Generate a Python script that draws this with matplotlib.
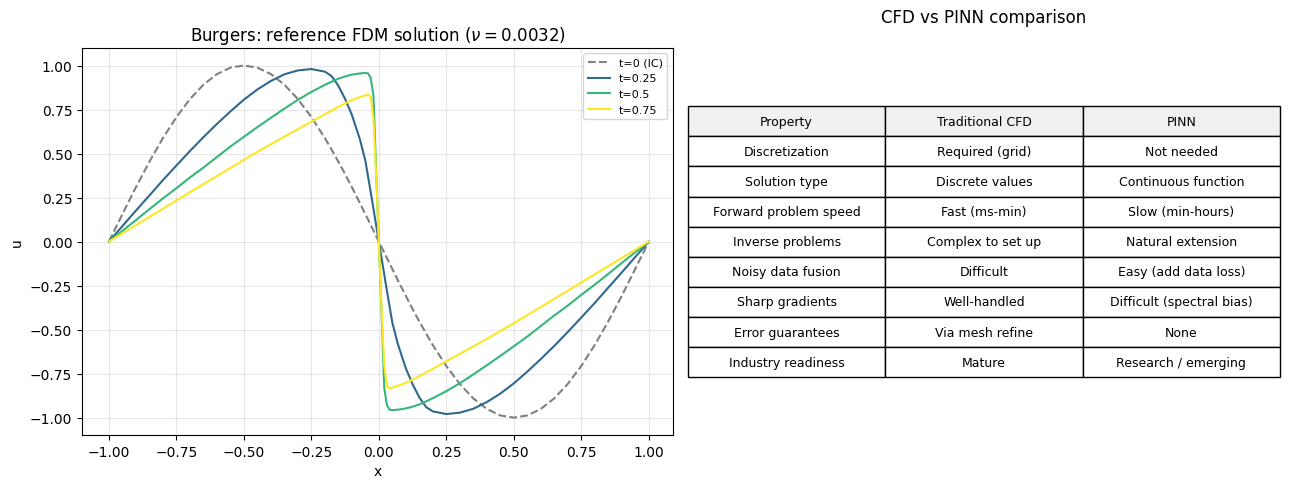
import numpy as np
import matplotlib
matplotlib.use("Agg")
from matplotlib import pyplot as plt

# x grid shared by all curves (denser around the shock at x=0)
x = [-1.0, -0.95, -0.9, -0.85, -0.8, -0.75, -0.7, -0.65, -0.6, -0.55, -0.5,
     -0.45, -0.4, -0.35, -0.3, -0.25, -0.2, -0.175, -0.15, -0.125, -0.1, -0.07,
     -0.05, -0.04, -0.03, -0.02, -0.01, 0.0,
     0.01, 0.02, 0.03, 0.04, 0.05, 0.07, 0.1, 0.125, 0.15, 0.175, 0.2, 0.25,
     0.3, 0.35, 0.4, 0.45, 0.5, 0.55, 0.6, 0.65, 0.7, 0.75, 0.8, 0.85, 0.9,
     0.95, 1.0]

u_ic = [0.0, 0.156, 0.309, 0.454, 0.588, 0.707, 0.809, 0.891, 0.951, 0.988, 1.0,
        0.988, 0.951, 0.891, 0.809, 0.707, 0.588, 0.522, 0.454, 0.383, 0.309, 0.218,
        0.156, 0.125, 0.094, 0.063, 0.031, 0.0,
        -0.031, -0.063, -0.094, -0.125, -0.156, -0.218, -0.309, -0.383, -0.454, -0.522, -0.588, -0.707,
        -0.809, -0.891, -0.951, -0.988, -1.0, -0.988, -0.951, -0.891, -0.809, -0.707, -0.588, -0.454, -0.309,
        -0.156, 0.0]

u_t025 = [0.0, 0.088, 0.176, 0.262, 0.349, 0.432, 0.514, 0.593, 0.668, 0.739, 0.806,
          0.864, 0.912, 0.95, 0.972, 0.98, 0.965, 0.94, 0.885, 0.81, 0.72, 0.58,
          0.46, 0.37, 0.28, 0.186, 0.093, 0.0,
          -0.093, -0.186, -0.28, -0.37, -0.46, -0.58, -0.72, -0.81, -0.885, -0.94, -0.965, -0.98,
          -0.972, -0.95, -0.912, -0.864, -0.806, -0.739, -0.668, -0.593, -0.514, -0.432, -0.349, -0.262, -0.176,
          -0.088, 0.0]

u_t05 = [0.0, 0.061, 0.122, 0.184, 0.245, 0.303, 0.364, 0.42, 0.48, 0.54, 0.595,
         0.65, 0.703, 0.755, 0.805, 0.85, 0.89, 0.908, 0.925, 0.938, 0.948, 0.955,
         0.958, 0.955, 0.93, 0.83, 0.40, 0.0,
         -0.40, -0.83, -0.93, -0.955, -0.958, -0.955, -0.948, -0.938, -0.925, -0.908, -0.89, -0.85,
         -0.805, -0.755, -0.703, -0.65, -0.595, -0.54, -0.48, -0.42, -0.364, -0.303, -0.245, -0.184, -0.122,
         -0.061, 0.0]

u_t075 = [0.0, 0.047, 0.093, 0.14, 0.186, 0.233, 0.28, 0.326, 0.372, 0.418, 0.464,
          0.509, 0.553, 0.596, 0.638, 0.68, 0.723, 0.744, 0.765, 0.785, 0.803, 0.82,
          0.83, 0.835, 0.82, 0.70, 0.38, 0.0,
          -0.38, -0.70, -0.82, -0.835, -0.83, -0.82, -0.803, -0.785, -0.765, -0.744, -0.723, -0.68,
          -0.638, -0.596, -0.553, -0.509, -0.464, -0.418, -0.372, -0.326, -0.28, -0.233, -0.186, -0.14, -0.093,
          -0.047, 0.0]

col_labels = ["Property", "Traditional CFD", "PINN"]
rows = [
    ["Discretization", "Required (grid)", "Not needed"],
    ["Solution type", "Discrete values", "Continuous function"],
    ["Forward problem speed", "Fast (ms-min)", "Slow (min-hours)"],
    ["Inverse problems", "Complex to set up", "Natural extension"],
    ["Noisy data fusion", "Difficult", "Easy (add data loss)"],
    ["Sharp gradients", "Well-handled", "Difficult (spectral bias)"],
    ["Error guarantees", "Via mesh refine", "None"],
    ["Industry readiness", "Mature", "Research / emerging"],
]

fig = plt.figure(figsize=(12.89, 4.89), dpi=100)
ax = fig.add_axes([0.0636, 0.108, 0.4585, 0.792])
ax2 = fig.add_axes([0.5337, 0.108, 0.4593, 0.8286])

ax.plot(x, u_ic, '--', color='gray', lw=1.5, label='t=0 (IC)')
ax.plot(x, u_t025, color='#31688e', lw=1.5, label='t=0.25')
ax.plot(x, u_t05, color='#35b779', lw=1.5, label='t=0.5')
ax.plot(x, u_t075, color='#fde725', lw=1.5, label='t=0.75')
ax.set_xlim(-1.1, 1.09)
ax.set_xlabel('x')
ax.set_ylabel('u')
ax.set_title(r'Burgers: reference FDM solution ($\nu=0.0032$)')
ax.grid(True, alpha=0.3)
ax.legend(fontsize=8, loc='upper right')

ax2.axis('off')
ax2.set_title('CFD vs PINN comparison')
tbl = ax2.table(cellText=rows, colLabels=col_labels, cellLoc='center',
                bbox=[0, 0.143, 1, 0.669])
tbl.auto_set_font_size(False)
tbl.set_fontsize(9)
for (r, c), cell in tbl.get_celld().items():
    cell.set_linewidth(1.0)
    if r == 0:
        cell.set_facecolor('#f0f0f0')

fig.savefig('out.png', dpi=100)
